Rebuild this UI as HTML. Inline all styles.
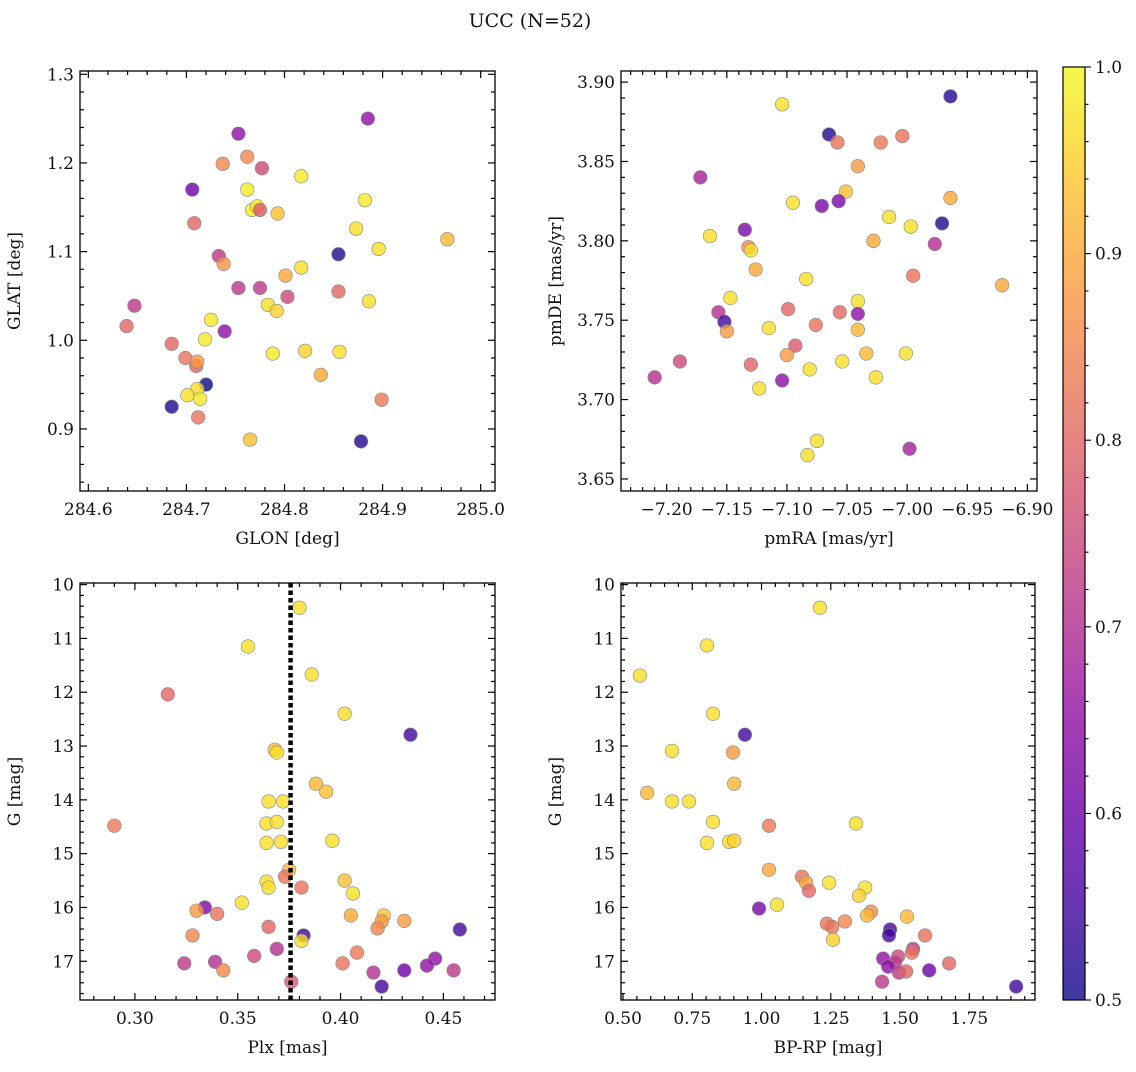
<!DOCTYPE html>
<html><head><meta charset="utf-8"><style>
html,body{margin:0;padding:0;background:#fff;}
svg text{font-family:"DejaVu Serif","Liberation Serif",serif;fill:#111;}
</style></head><body>
<svg id="chart" width="1136" height="1067" viewBox="0 0 1136 1067" xmlns="http://www.w3.org/2000/svg">
<text x="530" y="27" font-size="19" text-anchor="middle">UCC (N=52)</text>
<defs><linearGradient id="plasma" x1="0" y1="1" x2="0" y2="0"></linearGradient></defs>
</svg>
<script>
// ---- data: panel 1 (GLON vs GLAT)
const glon=[284.753,284.885,284.737,284.762,284.777,284.706,284.762,284.817,284.767,284.772,284.775,284.793,284.882,284.873,284.708,284.896,284.966,284.733,284.738,284.855,284.817,284.801,284.647,284.753,284.775,284.803,284.855,284.783,284.792,284.886,284.639,284.725,284.739,284.719,284.685,284.699,284.710,284.711,284.821,284.788,284.856,284.837,284.720,284.711,284.701,284.714,284.685,284.712,284.899,284.765,284.878];
const glat=[1.233,1.250,1.199,1.207,1.194,1.170,1.170,1.185,1.147,1.151,1.147,1.143,1.158,1.126,1.132,1.103,1.114,1.095,1.086,1.097,1.082,1.073,1.039,1.059,1.059,1.049,1.055,1.040,1.033,1.044,1.016,1.023,1.010,1.001,0.996,0.980,0.971,0.976,0.988,0.985,0.987,0.961,0.950,0.945,0.938,0.934,0.925,0.913,0.933,0.888,0.886];
const prob1=[0.65,0.65,0.85,0.85,0.75,0.6,0.98,0.98,0.98,0.98,0.78,0.93,0.98,0.97,0.8,0.97,0.92,0.72,0.87,0.52,0.97,0.9,0.72,0.72,0.72,0.75,0.8,0.97,0.95,0.97,0.8,0.98,0.65,0.98,0.8,0.82,0.8,0.88,0.95,0.98,0.97,0.9,0.5,0.97,0.97,0.98,0.52,0.82,0.83,0.93,0.52];
// ---- panel 2 (pmRA vs pmDE)
const pmra=[-7.104,-6.964,-7.065,-7.058,-7.022,-7.004,-7.172,-7.041,-7.051,-7.095,-7.071,-7.057,-6.964,-7.015,-7.135,-6.971,-6.997,-7.164,-7.028,-6.977,-7.132,-7.130,-6.995,-7.084,-7.126,-6.921,-7.147,-7.041,-7.157,-7.099,-7.056,-7.041,-7.152,-7.076,-7.150,-7.041,-7.115,-7.093,-7.100,-7.054,-7.034,-7.001,-7.130,-7.210,-7.189,-7.081,-7.026,-7.104,-7.123,-7.075,-7.083,-6.998];
const pmde=[3.886,3.891,3.867,3.862,3.862,3.866,3.840,3.847,3.831,3.824,3.822,3.825,3.827,3.815,3.807,3.811,3.809,3.803,3.800,3.798,3.796,3.794,3.778,3.776,3.782,3.772,3.764,3.762,3.755,3.757,3.755,3.754,3.749,3.747,3.743,3.744,3.745,3.734,3.728,3.724,3.729,3.729,3.722,3.714,3.724,3.719,3.714,3.712,3.707,3.674,3.665,3.669];
const prob2=[0.97,0.52,0.52,0.82,0.83,0.82,0.68,0.88,0.93,0.97,0.62,0.62,0.9,0.97,0.62,0.52,0.97,0.97,0.9,0.7,0.85,0.97,0.82,0.97,0.9,0.9,0.97,0.97,0.7,0.8,0.8,0.65,0.55,0.82,0.88,0.92,0.97,0.78,0.88,0.97,0.92,0.97,0.8,0.7,0.75,0.97,0.97,0.65,0.97,0.97,0.97,0.68];
// ---- panel 3 (Plx vs G)
const plx=[0.380,0.355,0.386,0.316,0.402,0.434,0.368,0.369,0.388,0.393,0.365,0.372,0.290,0.364,0.369,0.396,0.364,0.371,0.375,0.373,0.402,0.364,0.365,0.406,0.381,0.352,0.334,0.330,0.340,0.405,0.421,0.431,0.420,0.365,0.418,0.458,0.382,0.328,0.381,0.369,0.358,0.408,0.446,0.401,0.324,0.339,0.442,0.431,0.343,0.416,0.455,0.376,0.420];
const gmag3=[10.43,11.15,11.67,12.04,12.40,12.79,13.07,13.12,13.70,13.85,14.03,14.03,14.48,14.44,14.41,14.76,14.80,14.78,15.30,15.43,15.50,15.52,15.63,15.74,15.63,15.91,16.00,16.06,16.12,16.15,16.15,16.25,16.26,16.36,16.39,16.41,16.52,16.52,16.62,16.77,16.90,16.84,16.95,17.04,17.04,17.01,17.08,17.17,17.17,17.21,17.17,17.38,17.47];
const prob3=[0.97,0.97,0.97,0.8,0.97,0.55,0.93,0.97,0.92,0.93,0.97,0.97,0.83,0.97,0.97,0.97,0.97,0.97,0.92,0.82,0.93,0.97,0.97,0.97,0.82,0.97,0.62,0.88,0.82,0.9,0.93,0.88,0.88,0.8,0.85,0.55,0.55,0.85,0.97,0.7,0.75,0.83,0.65,0.82,0.72,0.7,0.65,0.6,0.85,0.7,0.72,0.78,0.55];
const plxLine=0.3757;
// ---- panel 4 (BP-RP vs G)
const bprp=[1.211,0.561,0.803,0.825,0.940,0.677,0.897,0.587,0.901,0.677,0.738,0.825,1.027,1.341,0.803,0.883,0.901,1.027,
 1.146,1.161,1.171,1.244,1.374,1.352,1.056,0.991,1.395,1.381,1.525,1.236,1.255,1.301,1.258,
 1.590,1.464,1.460,
 1.547,1.543,1.439,1.493,1.482,1.457,1.496,1.522,
 1.605,1.677,1.435,1.919];
const gmag4=[10.43,11.69,11.13,12.40,12.79,13.09,13.12,13.87,13.70,14.03,14.03,14.41,14.48,14.44,14.80,14.78,14.76,15.30,
 15.43,15.54,15.69,15.54,15.63,15.78,15.95,16.02,16.08,16.15,16.17,16.30,16.36,16.26,16.60,
 16.52,16.41,16.52,
 16.77,16.84,16.95,16.91,17.02,17.10,17.21,17.19,
 17.17,17.04,17.38,17.47];
const prob4=[0.97,0.97,0.97,0.97,0.55,0.97,0.88,0.92,0.92,0.97,0.97,0.97,0.83,0.97,0.97,0.97,0.95,0.9,
 0.82,0.9,0.8,0.97,0.97,0.95,0.97,0.62,0.86,0.92,0.92,0.82,0.82,0.85,0.95,
 0.82,0.55,0.55,
 0.72,0.82,0.65,0.75,0.72,0.65,0.72,0.8,
 0.6,0.8,0.72,0.55];
const cbTicks=[0.5,0.6,0.7,0.8,0.9,1.0];

const NS="http://www.w3.org/2000/svg";
const svg=document.getElementById('chart');
function mk(tag,attrs,parent){const e=document.createElementNS(NS,tag);for(const k in attrs)e.setAttribute(k,attrs[k]);(parent||svg).appendChild(e);return e;}
const stops=['#0d0887','#41049d','#6a00a8','#8f0da4','#b12a90','#cc4778','#e16462','#f2844b','#fca636','#fcce25','#f0f921'];
function hex(h){return [1,3,5].map(i=>parseInt(h.substr(i,2),16));}
function plasma(p){let t=Math.max(0,Math.min(1,(p-0.5)/0.5))*10;const i=Math.min(9,Math.floor(t)),f=t-i;const a=hex(stops[i]),b=hex(stops[i+1]);return 'rgb('+a.map((v,k)=>Math.round(v+(b[k]-v)*f)).join(',')+')';}
const grad=document.getElementById('plasma');
stops.forEach((c,i)=>mk('stop',{offset:(i*10)+'%','stop-color':c},grad));

function panel(o){
  const g=mk('g',{});
  
  
  const sx=v=>o.x0+(v-o.xmin)/(o.xmax-o.xmin)*(o.x1-o.x0);
  const sy=o.yinv?v=>o.y0+(v-o.ymin)/(o.ymax-o.ymin)*(o.y1-o.y0):v=>o.y1-(v-o.ymin)/(o.ymax-o.ymin)*(o.y1-o.y0);
  const tk=mk('g',{stroke:'#000','stroke-width':1.2},g);
  
  
  for(let v=Math.ceil(o.xmin/o.xminor-1e-6)*o.xminor;v<=o.xmax+1e-9;v+=o.xminor){
    const isMaj=Math.abs(v/o.xmajor-Math.round(v/o.xmajor))<1e-4;const L=isMaj?7:4;const x=sx(v);
    mk('line',{x1:x,x2:x,y1:o.y1,y2:o.y1-L},tk);mk('line',{x1:x,x2:x,y1:o.y0,y2:o.y0+L},tk);
    if(isMaj){const t=mk('text',{x:x,y:o.y1+24,'font-size':17,'text-anchor':'middle',stroke:'none'},g);t.textContent=(v<0?'\u2212':'')+Math.abs(v).toFixed(o.xdec);
      
      }
  }
  const ya=Math.min(o.ymin,o.ymax),yb=Math.max(o.ymin,o.ymax);
  for(let v=Math.ceil(ya/o.yminor-1e-6)*o.yminor;v<=yb+1e-9;v+=o.yminor){
    const isMaj=Math.abs(v/o.ymajor-Math.round(v/o.ymajor))<1e-4;const L=isMaj?7:4;const y=sy(v);
    mk('line',{x1:o.x0,x2:o.x0+L,y1:y,y2:y},tk);mk('line',{x1:o.x1,x2:o.x1-L,y1:y,y2:y},tk);
    if(isMaj){const t=mk('text',{x:o.x0-6,y:y+6,'font-size':17,'text-anchor':'end',stroke:'none'},g);t.textContent=v.toFixed(o.ydec);
      
      }
  }
  o.xs.forEach((xv,i)=>{const c=mk('circle',{cx:sx(xv),cy:sy(o.ys[i]),r:6.8,fill:plasma(o.ps[i]),'fill-opacity':0.8,stroke:'#888','stroke-width':0.6},g);
    
    });
  if(o.vline!==undefined){const l=mk('line',{x1:sx(o.vline),x2:sx(o.vline),y1:o.y0,y2:o.y1,stroke:'#000','stroke-width':4.5,'stroke-dasharray':'4.5,3'},g);
    
    }
  const fr=mk('rect',{x:o.x0,y:o.y0,width:o.x1-o.x0,height:o.y1-o.y0,fill:'none',stroke:'#000','stroke-width':1.3},g);
  
  
  const xl=mk('text',{x:(o.x0+o.x1)/2,y:o.y1+53,'font-size':17,'text-anchor':'middle'},g);xl.textContent=o.xlabel;
  
  
  const yx=o.x0-60,yy=(o.y0+o.y1)/2;
  const yl=mk('text',{x:yx,y:yy,'font-size':17,'text-anchor':'middle',transform:'rotate(-90 '+yx+' '+yy+')'},g);yl.textContent=o.ylabel;
  
  
}
panel({name:'glon-glat-panel',x0:80,x1:495,y0:71,y1:491,xmin:284.5915,xmax:285.0146,ymin:0.830,ymax:1.3037,xmajor:0.1,xminor:0.02,ymajor:0.1,yminor:0.02,xdec:1,ydec:1,xs:glon,ys:glat,ps:prob1,xlabel:'GLON [deg]',ylabel:'GLAT [deg]'});
panel({name:'pm-panel',x0:621,x1:1037,y0:71,y1:491,xmin:-7.238,xmax:-6.892,ymin:3.6424,ymax:3.907,xmajor:0.05,xminor:0.01,ymajor:0.05,yminor:0.01,xdec:2,ydec:2,xs:pmra,ys:pmde,ps:prob2,xlabel:'pmRA [mas/yr]',ylabel:'pmDE [mas/yr]'});
panel({name:'plx-g-panel',x0:80,x1:495,y0:583,y1:1000,xmin:0.2733,xmax:0.4751,ymin:9.97,ymax:17.72,yinv:true,xmajor:0.05,xminor:0.01,ymajor:1,yminor:0.2,xdec:2,ydec:0,xs:plx,ys:gmag3,ps:prob3,vline:plxLine,xlabel:'Plx [mas]',ylabel:'G [mag]'});
panel({name:'cmd-panel',x0:621,x1:1035,y0:583,y1:1000,xmin:0.4928,xmax:1.987,ymin:9.97,ymax:17.72,yinv:true,xmajor:0.25,xminor:0.05,ymajor:1,yminor:0.2,xdec:2,ydec:0,xs:bprp,ys:gmag4,ps:prob4,xlabel:'BP-RP [mag]',ylabel:'G [mag]'});
const cb=mk('g',{});


const cy0=67,cy1=1000,cx0=1063,cx1=1085;
const cs=v=>cy1-(v-0.5)/0.5*(cy1-cy0);
mk('rect',{x:cx0,y:cy0,width:cx1-cx0,height:cy1-cy0,fill:'url(#plasma)','fill-opacity':0.8},cb);
mk('rect',{x:cx0,y:cy0,width:cx1-cx0,height:cy1-cy0,fill:'none',stroke:'#000','stroke-width':1.2},cb);
for(let v=0.5;v<=1.0001;v+=0.02){const maj=Math.abs(v*10-Math.round(v*10))<1e-4;mk('line',{x1:cx1,x2:cx1+(maj?6:3.5),y1:cs(v),y2:cs(v),stroke:'#000','stroke-width':1.1},cb);}
cbTicks.forEach(v=>{const t=mk('text',{x:cx1+10,y:cs(v)+6,'font-size':17},cb);t.textContent=v.toFixed(1);
  
  });
</script>
</body></html>
